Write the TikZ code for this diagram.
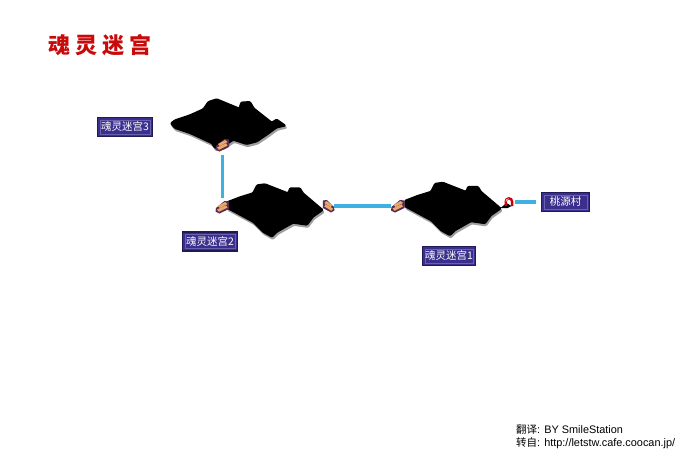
\documentclass[tikz,border=0pt]{standalone}
\usepackage{fontspec}
\setmainfont{Liberation Sans}
\newfontfamily\cjk{Noto Sans CJK SC}
\newfontfamily\cjkb{Noto Sans CJK SC Black}
\definecolor{linkblue}{HTML}{3FB0E2}
\definecolor{labelfill}{HTML}{3A2F8C}
\definecolor{labeledge}{HTML}{1E1A55}
\definecolor{labelinner}{HTML}{6A60B0}
\definecolor{titlered}{HTML}{C80A0A}
\definecolor{brtan}{HTML}{E8A868}
\definecolor{brdark}{HTML}{5A2A55}
\newcommand{\midshape}{(-38,-5) -- (-25,-10) -- (-12,-14) -- (-8,-22) -- (0,-23) -- (23,-14) -- (25,-19) -- (35,-19) -- (38,-14) -- (58,3) -- (48,10) -- (42,18) -- (28,16) -- (12,25) -- (7,30) -- (-2,25) -- (-12,15) -- (-38,1) -- cycle}
\newcommand{\topshape}{(170.7,123.3) -- (175,120) -- (190,115) -- (203.3,109) -- (208.3,101.7) -- (216.7,99) -- (239.3,108.3) -- (241,102.3) -- (250,101.7) -- (254,108.3) -- (271.7,122.3) -- (276.7,119.3) -- (285.7,125.7) -- (276.7,127.7) -- (266.7,135) -- (256.7,141.7) -- (246.7,144.3) -- (233.3,140) -- (223.3,146.7) -- (215,148.3) -- (211.7,143.3) -- (190,133.3) -- (175,128.3) -- cycle}
\tikzset{
  x=1pt,y=-1pt,
  maplabel/.style={draw=labeledge,line width=1.2pt,fill=labelfill,text=white,inner sep=0pt,
    font=\cjk\fontsize{10.5}{11}\selectfont,anchor=center,minimum height=19pt,
    path picture={\draw[labelinner,line width=.8pt]
      ([xshift=2.6pt,yshift=2.6pt]path picture bounding box.south west) rectangle
      ([xshift=-2.6pt,yshift=-2.6pt]path picture bounding box.north east);}},
  link/.style={draw=linkblue,line width=3.2pt},
  anchorbox/.style={inner sep=0pt,minimum width=11pt,minimum height=11pt},
  islandfill/.style={fill=black,draw=black,line width=1.4pt,line join=round,rounded corners=1pt},
  islandshadow/.style={fill=gray!75,draw=gray!75,line width=1.4pt,rounded corners=1pt},
  bridge/.pic={
    \fill[brdark] (-6.5,1) -- (2,-6) -- (6.5,-5.5) -- (6.5,2) -- (-3,6.5) -- (-7,4.5) -- cycle;
    \fill[brtan] (-4.5,-1) -- (2.5,-5) -- (5,-3) -- (-2.5,1) -- cycle;
    \fill[brtan] (-5.5,2.5) -- (3.5,-1.8) -- (5,.5) -- (-3.5,4.8) -- cycle;
  },
  gatepic/.pic={
    \fill[black] (-8,6) -- (-2,1) -- (3,4) -- (-1,6) -- cycle;
    \draw[red!80!black,line width=2.4pt] (-2.8,4) -- (-2.8,-.5) arc[start angle=180,end angle=360,radius=3.2] -- (3.6,4);
    \draw[pink,line width=.8pt] (-2.6,-.5) arc[start angle=180,end angle=270,radius=2.8];
  },
  midisland/.pic={
    \path[islandshadow] [shift={(1,2.2)}] \midshape;
    \path[islandfill] \midshape;
  }
}
\begin{document}
\begin{tikzpicture}
\useasboundingbox (0,0) rectangle (680,453);
\fill[white] (0,0) rectangle (680,453);

% islands
\pic at (265,207) {midisland};
\pic at (443,205.5) {midisland};
\path[islandshadow] [shift={(1,2.2)}] \topshape;
\path[islandfill] \topshape;

% anchors
\node[anchorbox] (b3) at (222.5,145) {};
\node[anchorbox] (b2l) at (222.5,207) {};
\node[anchorbox] (b2r) at (328.5,206) {};
\node[anchorbox] (b1) at (398,206) {};
\node[anchorbox] (g1) at (508.5,202) {};

\pic at (b3) {bridge};
\pic at (b2l) {bridge};
\pic[xscale=-.85] at (b2r) {bridge};
\pic at (b1) {bridge};
\pic at (g1) {gatepic};

% labels
\node[maplabel,minimum width=55pt] (l3) at (125,127) {魂灵迷宫3};
\node[maplabel,minimum width=55pt] (l2) at (210,241.5) {魂灵迷宫2};
\node[maplabel,minimum width=53pt] (l1) at (449,256) {魂灵迷宫1};
\node[maplabel,minimum width=48pt] (v) at (565.5,202) {桃源村};

% connectors
\draw[link,shorten <=4.5pt,shorten >=3.5pt] (b3.south) -- (b2l.north);
\draw[link,shorten >=1.5pt] (b2r.east) -- (b1.west);
\draw[link,shorten <=1pt,shorten >=4.5pt] (g1.east) -- (v.west);

% title
\node[anchor=west,inner sep=0pt,text=titlered,font=\cjkb\fontsize{22}{24}\selectfont] (title) at (48,45.5) {魂\hspace{5pt}灵\hspace{5pt}迷\hspace{5pt}宫};

% credits
\node[anchor=west,inner sep=0pt,font=\fontsize{10.9}{12}\selectfont] (c1) at (516,430) {{\cjk\fontsize{10.5}{12}\selectfont 翻译}: BY SmileStation};
\node[anchor=west,inner sep=0pt,font=\fontsize{10.9}{12}\selectfont] (c2) at (516,443.5) {{\cjk\fontsize{10.5}{12}\selectfont 转自}: http://letstw.cafe.coocan.jp/};
\end{tikzpicture}
\end{document}
